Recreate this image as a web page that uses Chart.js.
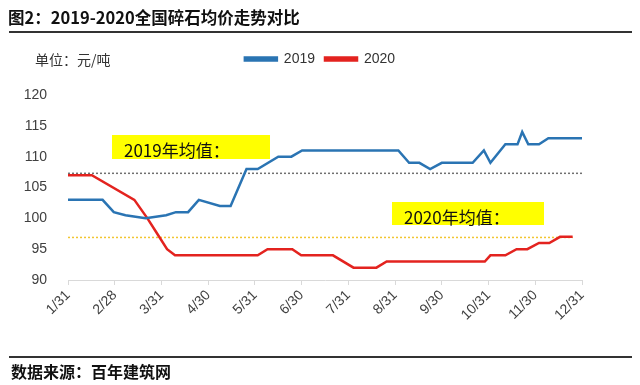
<!DOCTYPE html>
<html>
<head>
<meta charset="utf-8">
<script src="https://cdn.jsdelivr.net/npm/chart.js@4"></script>
<style>
  body { margin: 0; background: #fff; }
  .page { position: relative; width: 640px; height: 385px; overflow: hidden; font-family: "Noto Sans CJK SC", sans-serif; }
  .page canvas { position: absolute; left: 0; top: 0; }
  .title { position: absolute; left: 8px; top: 5px; font-size: 16.5px; font-weight: bold; color: #111; white-space: nowrap; }
  .rule { position: absolute; left: 9px; width: 623px; height: 2px; background: #333; }
  .unit { position: absolute; left: 35px; top: 49px; font-size: 14px; color: #333; }
  .avg-box { position: absolute; background: #ffff00; font-size: 17px; color: #111; padding-left: 12px; box-sizing: border-box; line-height: 29px; white-space: nowrap; }
  .source { position: absolute; left: 11px; top: 359px; font-size: 16px; font-weight: bold; color: #111; }
</style>
</head>
<body>
<div class="page">
  <canvas id="price-chart" width="640" height="385"></canvas>
  <div class="title">图2：2019-2020全国碎石均价走势对比</div>
  <div class="rule" style="top:31px"></div>
  <div class="unit">单位：元/吨</div>
  <div class="avg-box" style="left:112px;top:135px;width:158px;height:24px">2019年均值：</div>
  <div class="avg-box" style="left:392px;top:202px;width:152px;height:23px">2020年均值：</div>
  <div class="rule" style="top:356px"></div>
  <div class="source">数据来源：百年建筑网</div>
</div>
<script>
const monthLabels = ['1/31', '2/28', '3/31', '4/30', '5/31', '6/30', '7/31', '8/31', '9/30', '10/31', '11/30', '12/31'];

// x positions are in months after 1/31
const pos2019 = [0, 0.74, 0.98, 1.23, 1.66, 2.1, 2.31, 2.57, 2.8, 3.25, 3.48, 3.82, 4.06, 4.5, 4.78, 5.01, 7.07, 7.3, 7.52, 7.75, 8.0, 8.66, 8.9, 9.04, 9.36, 9.62, 9.72, 9.85, 10.08, 10.28, 11];
const price2019 = [103, 103, 101, 100.5, 100, 100.5, 101, 101, 103, 102, 102, 108, 108, 110, 110, 111, 111, 109, 109, 108, 109, 109, 111, 109, 112, 112, 114, 112, 112, 113, 113];

const pos2020 = [0, 0.51, 1.42, 1.7, 1.91, 2.12, 2.29, 4.06, 4.27, 4.8, 4.99, 5.67, 6.11, 6.6, 6.82, 8.92, 9.04, 9.36, 9.6, 9.83, 10.08, 10.3, 10.53, 10.8];
const price2020 = [107, 107, 103, 100, 97.5, 95, 94, 94, 95, 95, 94, 94, 92, 92, 93, 93, 94, 94, 95, 95, 96, 96, 97, 97];

const avg2019 = 107.3;
const avg2020 = 96.9;
const avgSpan2019 = [0, 11];
const avgSpan2020 = [0, 10.8];

const yTicks = [90, 95, 100, 105, 110, 115, 120];

const toPoints = (xs, ys) => xs.map((x, i) => ({ x, y: ys[i] }));

// push the plot area down below the legend
const legendSpacer = {
  id: 'legendSpacer',
  beforeInit(chart) {
    const fit = chart.legend.fit;
    chart.legend.fit = function () {
      fit.call(this);
      this.height += 19;
    };
  },
};

const ctx = document.getElementById('price-chart').getContext('2d');
new Chart(ctx, {
  type: 'line',
  data: {
    datasets: [
      {
        label: '2019',
        data: toPoints(pos2019, price2019),
        borderColor: '#2a74b3',
        backgroundColor: '#2a74b3',
        borderWidth: 2.5,
        pointRadius: 0,
        tension: 0,
      },
      {
        label: '2020',
        data: toPoints(pos2020, price2020),
        borderColor: '#e3231f',
        backgroundColor: '#e3231f',
        borderWidth: 2.5,
        pointRadius: 0,
        tension: 0,
      },
      {
        label: 'avg2019',
        data: avgSpan2019.map(x => ({ x, y: avg2019 })),
        borderColor: '#707070',
        borderWidth: 1.5,
        borderDash: [2, 2],
        pointRadius: 0,
      },
      {
        label: 'avg2020',
        data: avgSpan2020.map(x => ({ x, y: avg2020 })),
        borderColor: '#f2c531',
        borderWidth: 1.5,
        borderDash: [2, 2],
        pointRadius: 0,
      },
    ],
  },
  options: {
    responsive: false,
    animation: false,
    layout: { padding: { top: 42, left: 0, right: 0, bottom: 55 } },
    plugins: {
      tooltip: { enabled: false },
      legend: {
        position: 'top',
        labels: {
          filter: item => item.text === '2019' || item.text === '2020',
          boxWidth: 32,
          boxHeight: 3,
          padding: 10,
          color: '#333',
          font: { family: 'Liberation Sans', size: 14 },
        },
      },
    },
    scales: {
      x: {
        type: 'linear',
        min: 0,
        max: 11,
        afterBuildTicks: scale => { scale.ticks = monthLabels.map((_, i) => ({ value: i })); },
        afterFit: scale => { scale.height = 50; },
        ticks: {
          callback: v => monthLabels[v],
          minRotation: 45,
          maxRotation: 45,
          color: '#404040',
          font: { family: 'Liberation Sans', size: 14 },
          padding: 2,
        },
        grid: { drawOnChartArea: false, drawTicks: true, tickLength: 5, color: '#d9d9d9' },
        border: { color: '#d9d9d9', width: 1 },
      },
      y: {
        min: 90,
        max: 120,
        afterBuildTicks: scale => { scale.ticks = yTicks.map(v => ({ value: v })); },
        afterFit: scale => { scale.width = 68; },
        ticks: {
          color: '#404040',
          font: { family: 'Liberation Sans', size: 14 },
          padding: 13,
        },
        grid: { display: false },
        border: { display: false },
      },
      // empty right-hand axis, only reserves the space right of the plot
      yRight: {
        position: 'right',
        min: 90,
        max: 120,
        afterFit: scale => { scale.width = 58; },
        ticks: { display: false },
        grid: { display: false },
        border: { display: false },
      },
    },
  },
  plugins: [legendSpacer],
});
</script>
</body>
</html>
